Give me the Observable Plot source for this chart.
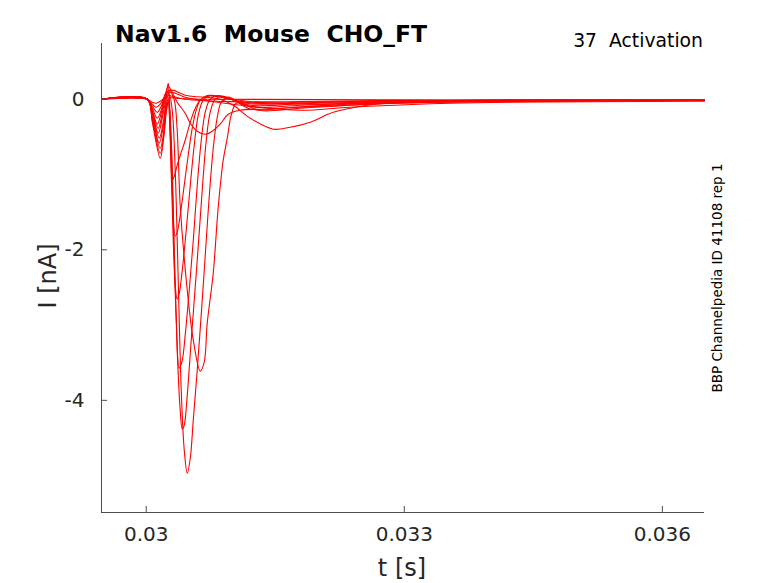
<!DOCTYPE html>
<html><head><meta charset="utf-8">
<script src="https://cdn.jsdelivr.net/npm/d3@7"></script>
<script src="https://cdn.jsdelivr.net/npm/@observablehq/plot@0.6"></script>
<style>body{margin:0;background:#fff;} svg{display:block;}</style>
</head><body><div id="chart"></div>
<script>
const xTicks = [0.03, 0.033, 0.036];
const yTicks = [0, -2, -4];
const xDomain = [0.02948, 0.03649];
const yDomain = [-5.49, 0.74];
const titleText = "Nav1.6  Mouse  CHO_FT";
const protocolText = "37  Activation";
const sourceText = "BBP Channelpedia ID 41108 rep 1";
const xLabel = "t [s]";
const yLabel = "I [nA]";

// [t (s), I (nA)]
const trace01 = [[0.02948,0],[0.030012,0],[0.03007,-0.04],[0.030116,-0.053],[0.030163,-0.027],[0.030233,0.027],[0.030337,0.013],[0.030628,0],[0.03649,-0.007]];
const trace02 = [[0.02948,0],[0.030012,0],[0.03007,-0.066],[0.030116,-0.106],[0.030163,-0.066],[0.030233,0.053],[0.030302,0.04],[0.030453,0],[0.031209,-0.04],[0.032023,-0.066],[0.032953,-0.04],[0.034116,-0.027],[0.03649,-0.013]];
const trace03 = [[0.02948,0],[0.030012,0],[0.03007,-0.093],[0.030128,-0.173],[0.030174,-0.093],[0.030233,0.08],[0.030302,0.093],[0.030453,0.027],[0.030744,-0.027],[0.031209,-0.093],[0.031791,-0.146],[0.032372,-0.106],[0.033535,-0.053],[0.03649,-0.027]];
const trace04 = [[0.02948,0],[0.030012,0],[0.03007,-0.12],[0.030128,-0.252],[0.030174,-0.146],[0.030233,0.093],[0.030302,0.12],[0.030453,0.053],[0.03086,0],[0.031012,-0.08],[0.031209,-0.252],[0.031477,-0.398],[0.031674,-0.372],[0.031907,-0.305],[0.032174,-0.173],[0.03257,-0.08],[0.032953,-0.04],[0.034116,-0.027],[0.03649,-0.013]];
const trace05 = [[0.02948,0],[0.030012,0],[0.03007,-0.146],[0.030128,-0.332],[0.030174,-0.186],[0.030221,0.053],[0.030256,0.173],[0.030302,0.093],[0.03036,-0.04],[0.030453,-0.186],[0.030512,-0.319],[0.030593,-0.425],[0.030686,-0.465],[0.030767,-0.425],[0.03086,-0.332],[0.030953,-0.199],[0.031093,-0.146],[0.031326,-0.133],[0.031791,-0.106],[0.032953,-0.053],[0.03649,-0.013]];
const trace06 = [[0.02948,0],[0.030012,0],[0.03007,-0.173],[0.03014,-0.385],[0.030186,-0.186],[0.030233,0.04],[0.030279,0.093],[0.030326,-0.013],[0.03036,-0.412],[0.030395,-1.408],[0.030477,-2.537],[0.030547,-3.201],[0.030628,-3.612],[0.030674,-3.493],[0.030709,-2.975],[0.030779,-2.311],[0.030837,-1.434],[0.030895,-0.81],[0.030942,-0.518],[0.030988,-0.212],[0.031047,-0.05],[0.03114,-0.07],[0.031326,-0.15],[0.031791,-0.12],[0.032953,-0.05],[0.03649,-0.013]];
const trace07 = [[0.02948,0],[0.030012,0],[0.03007,-0.186],[0.03014,-0.452],[0.030186,-0.252],[0.030233,0],[0.030267,0.066],[0.030302,-0.146],[0.030337,-0.943],[0.030372,-2.404],[0.030407,-3.865],[0.030442,-4.661],[0.030477,-4.967],[0.030512,-4.768],[0.030547,-4.263],[0.030593,-3.599],[0.030663,-2.47],[0.030721,-1.474],[0.030779,-0.651],[0.030826,-0.239],[0.030872,-0.04],[0.030953,0.03],[0.031209,-0.13],[0.031791,-0.1],[0.032953,-0.04],[0.03649,-0.013]];
const trace08 = [[0.02948,0],[0.030012,0],[0.03007,-0.199],[0.030151,-0.518],[0.030198,-0.305],[0.030233,-0.066],[0.030256,-0.013],[0.030291,-0.545],[0.030326,-2.005],[0.03036,-3.333],[0.030395,-4.13],[0.030419,-4.382],[0.030442,-4.329],[0.030477,-3.931],[0.030523,-3.201],[0.030593,-2.138],[0.030651,-1.208],[0.030698,-0.545],[0.030744,-0.173],[0.030802,0],[0.030884,0.04],[0.031209,-0.1],[0.031791,-0.08],[0.032953,-0.03],[0.03649,-0.013]];
const trace09 = [[0.02948,0],[0.030012,0],[0.03007,-0.226],[0.030151,-0.584],[0.030198,-0.359],[0.030233,-0.093],[0.030256,0.013],[0.030279,-0.279],[0.030314,-1.607],[0.030349,-2.935],[0.030384,-3.572],[0.030419,-3.466],[0.030453,-3.134],[0.0305,-2.537],[0.030547,-1.873],[0.030593,-1.142],[0.03064,-0.545],[0.030686,-0.173],[0.030744,0],[0.030837,0.05],[0.031209,-0.08],[0.031791,-0.06],[0.032953,-0.03],[0.03649,-0.013]];
const trace10 = [[0.02948,0],[0.030012,0],[0.03007,-0.252],[0.030163,-0.651],[0.030209,-0.385],[0.030233,-0.146],[0.030256,-0.027],[0.030279,-0.545],[0.030314,-1.873],[0.030337,-2.47],[0.03036,-2.656],[0.030384,-2.576],[0.030419,-2.271],[0.030465,-1.74],[0.030512,-1.142],[0.030558,-0.611],[0.030605,-0.212],[0.030663,-0.013],[0.030744,0.05],[0.031209,-0.06],[0.031791,-0.05],[0.032953,-0.02],[0.03649,-0.013]];
const trace11 = [[0.02948,0],[0.030012,0],[0.03007,-0.279],[0.030163,-0.717],[0.030209,-0.452],[0.030233,-0.173],[0.030256,-0.04],[0.030279,-0.412],[0.030302,-1.208],[0.030337,-1.819],[0.03036,-1.766],[0.030395,-1.54],[0.030442,-1.142],[0.030488,-0.744],[0.030535,-0.385],[0.030581,-0.146],[0.030628,-0.013],[0.030709,0.05],[0.031209,-0.05],[0.031791,-0.04],[0.032953,-0.02],[0.03649,-0.013]];
const trace12 = [[0.02948,0],[0.030012,0],[0.03007,-0.305],[0.030163,-0.784],[0.030198,-0.545],[0.030221,-0.146],[0.030244,0.146],[0.030256,0.212],[0.030267,0.053],[0.030291,-0.81],[0.030302,-1.076],[0.030326,-1.023],[0.03036,-0.876],[0.030407,-0.704],[0.030453,-0.545],[0.030512,-0.305],[0.03057,-0.12],[0.030628,-0.013],[0.030709,0.04],[0.031209,-0.03],[0.031791,-0.03],[0.032953,-0.015],[0.03649,-0.013]];

const traces = [trace01, trace02, trace03, trace04, trace05, trace06, trace07, trace08, trace09, trace10, trace11, trace12];
const rows = traces.flatMap((tr, i) => tr.map(([t, I]) => ({trace: i, t, I})));

const W = 778, H = 583, mL = 101, mR = 74, mT = 43, mB = 71;
const axisColor = "#4d4d4d";
const textColor = "#262626";

const plot = Plot.plot({
  width: W, height: H,
  marginLeft: mL, marginRight: mR, marginTop: mT, marginBottom: mB,
  x: {domain: xDomain},
  y: {domain: yDomain},
  style: {fontFamily: "DejaVu Sans", fontSize: "20px", color: textColor, background: "#fff"},
  marks: [
    Plot.line(rows, {x: "t", y: "I", z: "trace", stroke: "#ff0000", strokeWidth: 1.1, curve: "catmull-rom"}),
    Plot.ruleX([xDomain[0]], {stroke: axisColor, strokeWidth: 1}),
    Plot.ruleY([yDomain[0]], {stroke: axisColor, strokeWidth: 1}),
    Plot.tickX(xTicks, {x: d => d, stroke: axisColor, insetTop: H - mT - mB - 6}),
    Plot.tickY(yTicks, {y: d => d, stroke: axisColor, insetRight: W - mL - mR - 6}),
    Plot.axisX({ticks: xTicks, tickSize: 0, tickPadding: 14, tickFormat: d => String(d), label: null, fontSize: 20, fill: textColor}),
    Plot.axisY({ticks: yTicks, tickSize: 0, tickPadding: 17, tickFormat: d => String(d), label: null, fontSize: 20, fill: textColor})
  ]
});
document.getElementById("chart").appendChild(plot);

const svg = d3.select(plot);
svg.append("text").attr("x", 115).attr("y", 42).attr("text-anchor", "start").attr("font-family", "DejaVu Sans").attr("font-weight", "bold")
  .attr("font-size", 23.5).attr("fill", "#000").text(titleText);
svg.append("text").attr("x", 703).attr("y", 47).attr("text-anchor", "end").attr("font-family", "DejaVu Sans")
  .attr("font-size", 18.8).attr("fill", "#000").text(protocolText);
svg.append("text").attr("transform", "translate(722,278) rotate(-90)").attr("text-anchor", "middle")
  .attr("font-family", "DejaVu Sans").attr("font-size", 13.5).attr("fill", "#000").text(sourceText);
svg.append("text").attr("x", 402).attr("y", 576).attr("text-anchor", "middle").attr("font-family", "DejaVu Sans")
  .attr("font-size", 24).attr("fill", textColor).text(xLabel);
svg.append("text").attr("transform", "translate(56,276) rotate(-90)").attr("text-anchor", "middle")
  .attr("font-family", "DejaVu Sans").attr("font-size", 24).attr("fill", textColor).text(yLabel);
</script>
</body></html>
